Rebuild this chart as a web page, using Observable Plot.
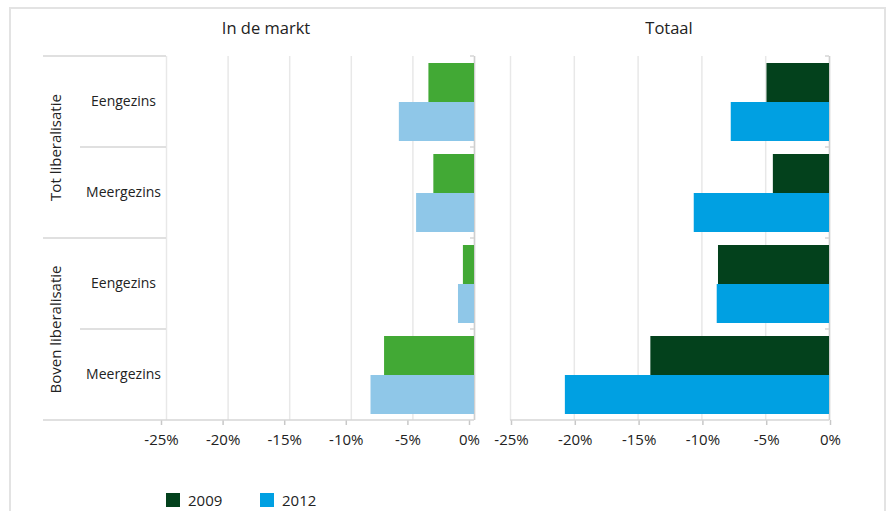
<!DOCTYPE html>
<html>
<head>
<meta charset="utf-8">
<script src="https://cdn.jsdelivr.net/npm/d3@7"></script>
<script src="https://cdn.jsdelivr.net/npm/@observablehq/plot@0.6"></script>
<style>
  body { margin: 0; background: #fff; font-family: "Open Sans", sans-serif; }
  #root { position: relative; width: 888px; height: 511px; overflow: hidden; background: #fff; }
  #frame { position: absolute; left: 9px; top: 7px; width: 877px; height: 530px; border: 2px solid #e3e3e3; box-sizing: border-box; }
  .title { position: absolute; top: 16px; font-size: 16.5px; color: #222; transform: translateX(-50%); white-space: nowrap; }
  #left { position: absolute; left: 0; top: 0; }
  #right { position: absolute; left: 490px; top: 0; }
  #legend { position: absolute; left: 166px; top: 490px; font-size: 15px; color: #222; }
  .item { position: absolute; top: 0; display: flex; align-items: center; white-space: nowrap; }
  .sw { width: 14px; height: 14px; margin-right: 8px; }
</style>
</head>
<body>
<div id="root">
  <div id="frame"></div>
  <div class="title" style="left:266px">In de markt</div>
  <div class="title" style="left:669px">Totaal</div>
  <div id="left"></div>
  <div id="right"></div>
  <div id="legend"></div>
</div>
<script>
// ---- data ----
const groups = ["Tot liberalisatie", "Tot liberalisatie", "Boven liberalisatie", "Boven liberalisatie"];
const categories = ["Eengezins", "Meergezins", "Eengezins", "Meergezins"];
const years = ["2009", "2012"];
const inDeMarkt2009 = [-3.7, -3.3, -0.9, -7.3];
const inDeMarkt2012 = [-6.1, -4.7, -1.3, -8.4];
const totaal2009 = [-4.9, -4.4, -8.7, -14.0];
const totaal2012 = [-7.7, -10.6, -8.8, -20.7];
const xTicks = [-25, -20, -15, -10, -5, 0];
const colorsInDeMarkt = ["#42a935", "#8fc7e8"];
const colorsTotaal = ["#03411c", "#00a0e2"];

const keys = categories.map((c, i) => groups[i] + " | " + c);
function rows(v2009, v2012) {
  return keys.flatMap((k, i) => [
    {key: k, year: years[0], value: v2009[i]},
    {key: k, year: years[1], value: v2012[i]}
  ]);
}
const labelRows = keys.map((k, i) => ({
  key: k, group: groups[i], category: categories[i],
  first: i === 0 || groups[i] !== groups[i - 1]
}));

const LINE = "#d6d6d6";

function panel({data, colors, width, marginLeft, marginRight, labels, tickDx}) {
  const marks = [
    Plot.gridX({ticks: xTicks, stroke: "#e8e8e8", strokeOpacity: 1, strokeWidth: 1.5}),
    Plot.ruleX([0], {stroke: "#cfcfcf", strokeWidth: 1.5}),
    Plot.barX(data, {fy: "key", y: "year", x: "value", fill: "year"}),
    Plot.axisX({ticks: xTicks, tickFormat: d => `${d}%`, tickSize: 5, tickPadding: 9, label: null,
      stroke: "#c8c8c8", strokeWidth: 1.5, fill: "#222", fontSize: 15, dx: tickDx})
  ];
  if (labels) {
    marks.push(
      Plot.text(labelRows, {fy: "key", text: "category", frameAnchor: "left", dx: -43,
        textAnchor: "middle", fontSize: 14, fill: "#222"}),
      Plot.text(labelRows.filter(d => d.first), {fy: "key", text: "group", frameAnchor: "bottom-left",
        dx: -106, rotate: -90, textAnchor: "middle", fontSize: 15, fill: "#222"})
    );
  }
  const chart = Plot.plot({
    width, height: 460,
    marginTop: 54, marginBottom: 39, marginLeft, marginRight,
    x: {domain: [-25, 0], axis: null},
    y: {domain: years, paddingInner: 0, paddingOuter: 0.16, axis: null},
    fy: {domain: keys, padding: 0, axis: null},
    color: {domain: years, range: colors},
    style: {fontFamily: "Open Sans", fontSize: "15px", color: "#222", overflow: "visible", background: "transparent"},
    marks
  });
  // separator lines derived from Plot's own scales
  const fy = chart.scale("fy");
  const x = chart.scale("x");
  const svg = d3.select(chart);
  const bw = fy.bandwidth;
  const x0 = x.apply(0), xMin = x.apply(-25);
  const g = svg.append("g").attr("stroke", LINE).attr("stroke-width", 1.5);
  const bottom = fy.apply(keys[keys.length - 1]) + bw;
  keys.forEach((k, i) => {
    const y0 = fy.apply(k);
    g.append("line").attr("x1", x0 - 4).attr("x2", x0).attr("y1", y0).attr("y2", y0);
    if (labels) {
      const start = labelRows[i].first ? marginLeft - 123 : marginLeft - 86;
      g.append("line").attr("x1", start).attr("x2", marginLeft).attr("y1", y0).attr("y2", y0);
    }
  });
  g.append("line").attr("x1", labels ? marginLeft - 123 : xMin).attr("x2", x0)
    .attr("y1", bottom).attr("y2", bottom);
  return chart;
}

document.getElementById("left").appendChild(panel({
  data: rows(inDeMarkt2009, inDeMarkt2012), colors: colorsInDeMarkt,
  width: 490, marginLeft: 166, marginRight: 16, labels: true, tickDx: -5
}));
document.getElementById("right").appendChild(panel({
  data: rows(totaal2009, totaal2012), colors: colorsTotaal,
  width: 398, marginLeft: 20, marginRight: 59, labels: false, tickDx: 1
}));

// legend
const legend = document.getElementById("legend");
years.forEach((y, i) => {
  const item = document.createElement("div");
  item.className = "item";
  item.style.left = (i * 94) + "px";
  item.innerHTML = `<div class="sw" style="background:${colorsTotaal[i]}"></div><span>${y}</span>`;
  legend.appendChild(item);
});
</script>
</body>
</html>
